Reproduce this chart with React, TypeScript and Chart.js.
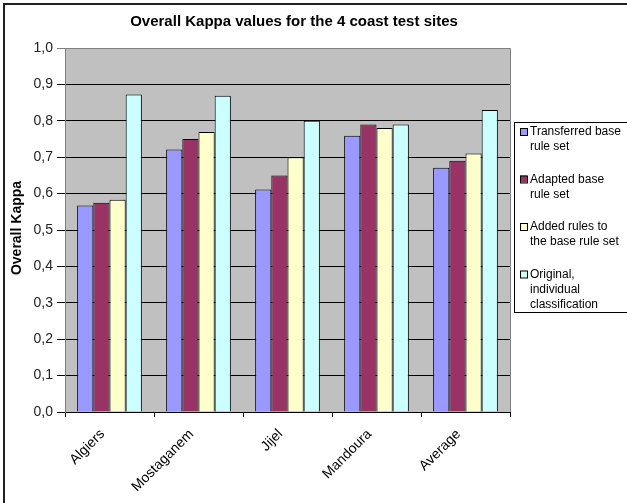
import React, { useEffect, useRef } from "react";
import { Chart, registerables } from "chart.js";

Chart.register(...registerables);

const categories = ["Algiers", "Mostaganem", "Jijel", "Mandoura", "Average"];
const transferredBase = [0.567, 0.721, 0.611, 0.759, 0.671];
const adaptedBase = [0.575, 0.75, 0.65, 0.79, 0.69];
const addedRules = [0.583, 0.769, 0.7, 0.78, 0.71];
const originalIndividual = [0.872, 0.869, 0.8, 0.79, 0.83];
const seriesNames = [
  "Transferred base rule set",
  "Adapted base rule set",
  "Added rules to the base rule set",
  "Original, individual classification",
];
const legendLines = [
  ["Transferred base", "rule set"],
  ["Adapted base", "rule set"],
  ["Added rules to", "the base rule set"],
  ["Original,", "individual", "classification"],
];
const seriesColors = ["#9999FF", "#993366", "#FFFFCC", "#CCFFFF"];
const chartTitle = "Overall Kappa values for the 4 coast test sites";
const yAxisTitle = "Overall Kappa";

const FONT = "Arial, 'Liberation Sans', sans-serif";

const decorPlugin = {
  id: "decor",
  beforeDraw(chart: any) {
    const { ctx, chartArea } = chart;
    ctx.save();
    ctx.fillStyle = "#FFFFFF";
    ctx.fillRect(0, 0, chart.width, chart.height);
    ctx.fillStyle = "#C0C0C0";
    ctx.fillRect(chartArea.left, chartArea.top, chartArea.right - chartArea.left, chartArea.bottom - chartArea.top);
    ctx.restore();
  },
  afterDraw(chart: any) {
    const { ctx, chartArea } = chart;
    ctx.save();
    // plot border top & right
    ctx.strokeStyle = "#808080";
    ctx.lineWidth = 1;
    ctx.beginPath();
    ctx.moveTo(chartArea.left, chartArea.top + 0.5);
    ctx.lineTo(chartArea.right + 0.5, chartArea.top + 0.5);
    ctx.lineTo(chartArea.right + 0.5, chartArea.bottom);
    ctx.stroke();

    // frame
    ctx.strokeStyle = "#202020";
    ctx.lineWidth = 2;
    ctx.strokeRect(4, 4, chart.width + 20, chart.height + 20);

    // title
    ctx.fillStyle = "#000";
    ctx.font = `bold 15px ${FONT}`;
    ctx.textAlign = "center";
    ctx.textBaseline = "middle";
    ctx.fillText(chartTitle, 294, 22);

    // y axis title
    ctx.save();
    ctx.translate(17, 228);
    ctx.rotate(-Math.PI / 2);
    ctx.font = `bold 14px ${FONT}`;
    ctx.fillText(yAxisTitle, 0, 0);
    ctx.restore();

    // legend
    const lx = 514, ly = 122, lw = 130, lh = 190;
    ctx.fillStyle = "#FFFFFF";
    ctx.fillRect(lx, ly, lw, lh);
    ctx.strokeStyle = "#000";
    ctx.lineWidth = 1;
    ctx.strokeRect(lx + 0.5, ly + 0.5, lw, lh);
    ctx.font = `12px ${FONT}`;
    ctx.textAlign = "left";
    ctx.textBaseline = "middle";
    const firstY = 132;
    const step = 47.5;
    legendLines.forEach((lines, i) => {
      const y = firstY + i * step;
      ctx.fillStyle = seriesColors[i];
      ctx.fillRect(520, y - 4, 7, 7);
      ctx.strokeStyle = "#000";
      ctx.strokeRect(520.5, y - 3.5, 7, 7);
      ctx.fillStyle = "#000";
      lines.forEach((t, j) => ctx.fillText(t, 530, y + j * 15));
    });
    ctx.restore();
  },
};

export default function App() {
  const ref = useRef<HTMLCanvasElement | null>(null);
  useEffect(() => {
    if (!ref.current) return;
    const datasets = [transferredBase, adaptedBase, addedRules, originalIndividual].map((d, i) => ({
      label: seriesNames[i],
      data: d,
      backgroundColor: seriesColors[i],
      borderColor: "#000000",
      borderWidth: 1,
      categoryPercentage: 4 / 5.5,
      barPercentage: 1,
    }));
    const chart = new Chart(ref.current, {
      type: "bar",
      data: { labels: categories, datasets },
      plugins: [decorPlugin],
      options: {
        responsive: false,
        animation: false,
        devicePixelRatio: 1,
        layout: { padding: { left: 0, top: 48, right: 117, bottom: 0 } },
        plugins: { legend: { display: false }, title: { display: false }, tooltip: { enabled: false } },
        scales: {
          x: {
            afterFit: (s: any) => { s.height = 91; },
            grid: { offset: true, drawOnChartArea: false, tickLength: 5, color: "#000" },
            border: { color: "#000", width: 1 },
            ticks: {
              minRotation: 45,
              maxRotation: 45,
              padding: 9,
              labelOffset: -7,
              color: "#000",
              font: { family: FONT, size: 14 },
            },
          },
          y: {
            min: 0,
            max: 1,
            afterFit: (s: any) => { s.width = 65; },
            grid: {
              tickLength: 8,
              color: (c: any) => (c.tick && c.tick.value >= 0.999 ? "#808080" : "#000000"),
            },
            border: { color: "#808080", width: 1 },
            ticks: {
              stepSize: 0.1,
              padding: 4,
              color: "#222",
              font: { family: FONT, size: 14 },
              callback: (v: any) => Number(v).toFixed(1).replace(".", ","),
            },
          },
        },
      },
    } as any);
    return () => chart.destroy();
  }, []);
  return (
    <div style={{ position: "fixed", left: 0, top: 0, width: 627, height: 503 }}>
      <canvas ref={ref} width={627} height={503} style={{ width: 627, height: 503 }} />
    </div>
  );
}
